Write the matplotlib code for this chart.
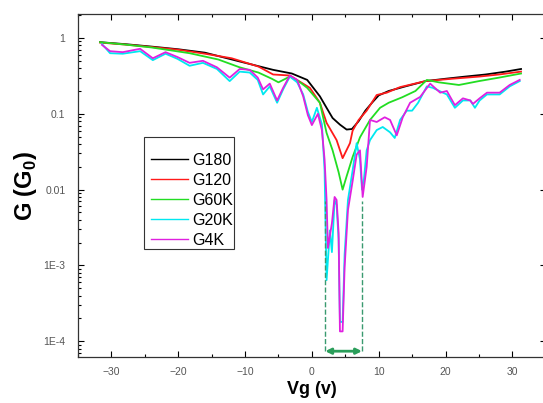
import matplotlib.pyplot as plt
import numpy as np
from matplotlib.lines import Line2D
from matplotlib.legend_handler import HandlerLine2D
from matplotlib.ticker import FixedLocator, FixedFormatter, MultipleLocator, LogLocator, NullFormatter

plt.rcParams['font.family'] = ['Liberation Sans', 'DejaVu Sans']
plt.rcParams['mathtext.fontset'] = 'custom'
plt.rcParams['mathtext.rm'] = 'Liberation Sans'
plt.rcParams['mathtext.bf'] = 'Liberation Sans:bold'

# gate voltage (V) and conductance (G0)
v_g180 = [-31.7, -28, -24, -20, -16, -10.8, -5.8, -3.0, -0.7, 1.2, 2.2, 3.1, 4.2, 5.2, 6.0, 7.0, 8.0, 9.0, 10.0, 11.5, 14, 17, 20, 23, 26, 29, 31.3]
g_g180 = [0.88, 0.83, 0.77, 0.71, 0.64, 0.49, 0.38, 0.34, 0.28, 0.17, 0.12, 0.088, 0.072, 0.062, 0.063, 0.08, 0.11, 0.14, 0.175, 0.20, 0.23, 0.27, 0.29, 0.31, 0.33, 0.36, 0.39]

v_g120 = [-31.7, -28, -24, -20, -16, -12, -8, -5.8, -3.3, -0.3, 1.2, 2.2, 3.7, 4.6, 5.7, 6.1, 7.0, 8.2, 9.7, 11.2, 13.2, 17, 21, 25.1, 28, 31.3]
g_g120 = [0.87, 0.82, 0.76, 0.70, 0.62, 0.54, 0.42, 0.33, 0.32, 0.22, 0.14, 0.076, 0.045, 0.026, 0.041, 0.06, 0.083, 0.11, 0.177, 0.19, 0.225, 0.27, 0.29, 0.31, 0.33, 0.36]

v_g60k = [-31.7, -28, -24, -18.3, -14, -10.8, -8, -6, -5.0, -3.3, -2, -0.7, 1.2, 2.2, 3.1, 4.0, 4.6, 5.2, 6.1, 7.2, 8.7, 10.2, 11.5, 13.5, 15.5, 17.2, 19, 22, 25, 28, 31.3]
g_g60k = [0.88, 0.82, 0.75, 0.63, 0.52, 0.41, 0.35, 0.29, 0.26, 0.31, 0.27, 0.22, 0.14, 0.056, 0.033, 0.017, 0.0100, 0.015, 0.027, 0.049, 0.083, 0.12, 0.14, 0.165, 0.20, 0.28, 0.26, 0.24, 0.27, 0.30, 0.34]

v_g20k = [-31.4, -30.2, -28.3, -25.7, -23.8, -21.9, -20.1, -18.3, -16.3, -14.2, -12.3, -10.8, -9.3, -8.1, -7.3, -6.3, -5.2, -4.3, -3.3, -2.2, -1.3, -0.6, 0.0, 0.75, 1.5, 1.9, 2.2, 2.7, 3.0, 3.4, 3.7, 4.0, 4.2, 4.6, 4.9, 5.4, 6.1, 6.7, 7.2, 7.5, 7.8, 8.2, 8.7, 9.7, 10.6, 11.7, 12.4, 13.2, 14.2, 15.0, 15.9, 17.2, 18.1, 19.6, 20.2, 21.4, 22.6, 23.7, 24.4, 25.1, 26.2, 28.1, 29.6, 31.1]
g_g20k = [0.83, 0.63, 0.62, 0.67, 0.51, 0.62, 0.53, 0.43, 0.47, 0.39, 0.27, 0.36, 0.35, 0.28, 0.18, 0.23, 0.14, 0.21, 0.31, 0.26, 0.18, 0.106, 0.078, 0.12, 0.073, 0.018, 6.4e-4, 0.0029, 0.0015, 0.0073, 0.0063, 0.0022, 1.8e-4, 1.8e-4, 0.0014, 0.0073, 0.018, 0.041, 0.025, 0.010, 0.014, 0.033, 0.045, 0.061, 0.067, 0.057, 0.048, 0.083, 0.11, 0.11, 0.14, 0.23, 0.22, 0.19, 0.18, 0.12, 0.15, 0.15, 0.12, 0.15, 0.18, 0.18, 0.23, 0.27]

v_g4k = [-31.4, -30.2, -28.3, -25.7, -23.8, -21.9, -20.1, -18.3, -16.3, -14.2, -12.3, -10.8, -9.3, -8.1, -7.3, -6.3, -5.2, -4.3, -3.3, -2.2, -1.3, -0.6, 0.0, 0.9, 1.5, 1.9, 2.2, 2.4, 3.0, 3.4, 3.7, 4.0, 4.2, 4.6, 4.9, 5.4, 6.1, 6.7, 7.2, 7.6, 8.2, 8.7, 9.7, 10.9, 11.7, 12.7, 13.6, 14.7, 16.2, 17.7, 19.2, 20.2, 21.4, 22.6, 23.7, 24.1, 25.1, 26.2, 28.1, 29.6, 31.1]
g_g4k = [0.81, 0.67, 0.65, 0.72, 0.54, 0.65, 0.56, 0.47, 0.50, 0.41, 0.30, 0.39, 0.38, 0.30, 0.21, 0.25, 0.15, 0.22, 0.32, 0.28, 0.17, 0.096, 0.071, 0.10, 0.061, 0.025, 0.0073, 0.0017, 0.0036, 0.0080, 0.0073, 0.0027, 1.35e-4, 1.35e-4, 9.5e-4, 0.0054, 0.013, 0.029, 0.033, 0.008, 0.020, 0.083, 0.078, 0.09, 0.083, 0.052, 0.09, 0.14, 0.167, 0.25, 0.19, 0.20, 0.13, 0.16, 0.15, 0.135, 0.16, 0.19, 0.19, 0.24, 0.28]

labels = ['G180', 'G120', 'G60K', 'G20K', 'G4K']
colors = ['#000000', '#ff1a1a', '#22dd22', '#00e8f0', '#e020e0']

# gap window marked on the plot
gap_left, gap_right = 2.0, 7.5
gap_top, gap_bottom = 0.007, 7.4e-5

fig = plt.figure(figsize=(5.43, 4.03), dpi=100)
ax = fig.add_axes([0.1436, 0.1141, 0.8615, 0.8511])

series = [(v_g180, g_g180), (v_g120, g_g120), (v_g60k, g_g60k), (v_g20k, g_g20k), (v_g4k, g_g4k)]
for (v, g), lab, c in zip(series, labels, colors):
    ax.plot(v, g, color=c, lw=1.3, label=lab)

ax.plot([gap_left, gap_left], [gap_bottom, gap_top], ls='--', color='#3a9a70', lw=1.0)
ax.plot([gap_right, gap_right], [gap_bottom, gap_top], ls='--', color='#3a9a70', lw=1.0)
ax.annotate('', xy=(gap_left, gap_bottom), xytext=(gap_right, gap_bottom),
            arrowprops=dict(arrowstyle='<|-|>', color='#2a9e5a', lw=2, mutation_scale=8,
                            shrinkA=0, shrinkB=0))

ax.set_yscale('log')
ax.set_xlim(-35, 35)
ax.set_ylim(6.2e-5, 2.07)

ax.yaxis.set_major_locator(FixedLocator([1e-4, 1e-3, 1e-2, 1e-1, 1]))
ax.yaxis.set_major_formatter(FixedFormatter(['1E-4', '1E-3', '0.01', '0.1', '1']))
ax.yaxis.set_minor_locator(LogLocator(base=10, subs=np.arange(2, 10), numticks=20))
ax.yaxis.set_minor_formatter(NullFormatter())
ax.xaxis.set_major_locator(MultipleLocator(10))
ax.xaxis.set_minor_locator(MultipleLocator(5))

ax.tick_params(which='both', direction='in', top=True, right=True, labelsize=7.5,
               labelcolor='#555555', width=0.8)
ax.tick_params(which='major', length=4, pad=7)
ax.tick_params(axis='y', which='major', pad=9)
ax.tick_params(which='minor', length=2)
for s in ax.spines.values():
    s.set_linewidth(0.9)
    s.set_color('#333333')

ax.set_xlabel('Vg (v)', fontsize=13, fontweight='bold', labelpad=3)
ax.set_ylabel('G (G$_\\mathbf{0}$)', fontsize=17, fontweight='bold', labelpad=3)

# blank title reproduces the empty strip at the top of the legend box
leg = ax.legend(loc='upper left', bbox_to_anchor=(0.141, 0.641), borderaxespad=0,
                fontsize=11.5, handlelength=2.65, labelspacing=0.31, fancybox=False,
                framealpha=1, edgecolor='#333333', borderpad=0.1, handletextpad=0.25,
                title=' ', title_fontsize=6.5,
                handler_map={Line2D: HandlerLine2D(xpad=0.35)})
leg.get_frame().set_linewidth(0.8)
for line in leg.get_lines():
    line.set_linewidth(1.0)

fig.savefig('out.png', dpi=100)
